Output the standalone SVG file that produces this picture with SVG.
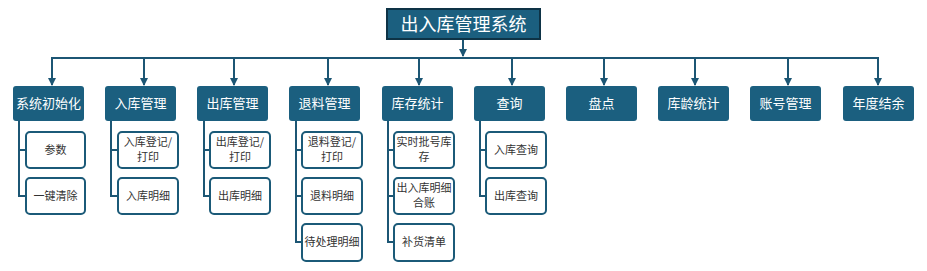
<svg xmlns="http://www.w3.org/2000/svg" width="927" height="271" viewBox="0 0 927 271">
<style>
.t{fill:#1b5f7f;}
.tt{fill:#fff;font-family:"Noto Sans CJK SC","Liberation Sans",sans-serif;font-size:13px;text-anchor:middle;}
.s{fill:#fff;stroke:#1b5a78;stroke-width:2;}
.st{fill:#333;font-family:"Noto Sans CJK SC","Liberation Sans",sans-serif;font-size:11px;text-anchor:middle;}
.c{fill:none;stroke:#1c5674;stroke-width:2;}
</style>
<defs>
<marker id="ah" markerWidth="8" markerHeight="8" refX="7" refY="4" orient="auto" markerUnits="userSpaceOnUse">
<path d="M0,0 L8,4 L0,8 Z" fill="#1c5674"/>
</marker>
</defs>
<g id="connectors">
<path class="c" d="M463,39 V56" marker-end="url(#ah)"/>
<path class="c" d="M52,85 V58 H878 V85"/>
<path class="c" d="M878,58 V85" marker-end="url(#ah)"/>
<path class="c" d="M52,58 V85" marker-end="url(#ah)"/>
<path class="c" d="M144,58 V85" marker-end="url(#ah)"/>
<path class="c" d="M234,58 V85" marker-end="url(#ah)"/>
<path class="c" d="M328,58 V85" marker-end="url(#ah)"/>
<path class="c" d="M419,58 V85" marker-end="url(#ah)"/>
<path class="c" d="M512,58 V85" marker-end="url(#ah)"/>
<path class="c" d="M604,58 V85" marker-end="url(#ah)"/>
<path class="c" d="M695,58 V85" marker-end="url(#ah)"/>
<path class="c" d="M788,58 V85" marker-end="url(#ah)"/>
<path class="c" d="M19,121 V196 H26 M19,150 H26"/>
<path class="c" d="M111,121 V196 H118 M111,150 H118"/>
<path class="c" d="M204,121 V196 H210 M204,150 H210"/>
<path class="c" d="M296,121 V242 H302 M296,150 H302 M296,196 H302"/>
<path class="c" d="M388,121 V242 H394 M388,150 H394 M388,196 H394"/>
<path class="c" d="M480,121 V196 H486 M480,150 H486"/>
</g>
<g id="root">
<rect x="387" y="9" width="153" height="30" fill="#1b5f7f" stroke="#0e3346" stroke-width="2"/>
<text x="463.5" y="30.5" fill="#fff" font-family="Noto Sans CJK SC, Liberation Sans, sans-serif" font-size="18" text-anchor="middle">出入库管理系统</text>
</g>
<g id="n1"><rect class="t" x="13" y="86" width="71" height="35" rx="3"/><text class="tt" x="48.5" y="108">系统初始化</text></g>
<g id="n2"><rect class="t" x="105" y="86" width="71" height="35" rx="3"/><text class="tt" x="140.5" y="108">入库管理</text></g>
<g id="n3"><rect class="t" x="197" y="86" width="71" height="35" rx="3"/><text class="tt" x="232.5" y="108">出库管理</text></g>
<g id="n4"><rect class="t" x="289" y="86" width="71" height="35" rx="3"/><text class="tt" x="324.5" y="108">退料管理</text></g>
<g id="n5"><rect class="t" x="382" y="86" width="71" height="35" rx="3"/><text class="tt" x="417.5" y="108">库存统计</text></g>
<g id="n6"><rect class="t" x="474" y="86" width="71" height="35" rx="3"/><text class="tt" x="509.5" y="108">查询</text></g>
<g id="n7"><rect class="t" x="566" y="86" width="71" height="35" rx="3"/><text class="tt" x="601.5" y="108">盘点</text></g>
<g id="n8"><rect class="t" x="658" y="86" width="71" height="35" rx="3"/><text class="tt" x="693.5" y="108">库龄统计</text></g>
<g id="n9"><rect class="t" x="750" y="86" width="71" height="35" rx="3"/><text class="tt" x="785.5" y="108">账号管理</text></g>
<g id="n10"><rect class="t" x="843" y="86" width="71" height="35" rx="3"/><text class="tt" x="878.5" y="108">年度结余</text></g>
<g id="s1a"><rect class="s" x="26" y="132" width="59" height="36" rx="4"/><text class="st" x="55.5" y="154">参数</text></g>
<g id="s1b"><rect class="s" x="26" y="178" width="59" height="36" rx="4"/><text class="st" x="55.5" y="200">一键清除</text></g>
<g id="s2a"><rect class="s" x="118" y="132" width="60" height="36" rx="4"/><text class="st" x="148" y="146">入库登记/</text><text class="st" x="148" y="161">打印</text></g>
<g id="s2b"><rect class="s" x="118" y="178" width="60" height="36" rx="4"/><text class="st" x="148" y="200">入库明细</text></g>
<g id="s3a"><rect class="s" x="210" y="132" width="60" height="36" rx="4"/><text class="st" x="240" y="146">出库登记/</text><text class="st" x="240" y="161">打印</text></g>
<g id="s3b"><rect class="s" x="210" y="178" width="60" height="36" rx="4"/><text class="st" x="240" y="200">出库明细</text></g>
<g id="s4a"><rect class="s" x="302" y="132" width="60" height="36" rx="4"/><text class="st" x="332" y="146">退料登记/</text><text class="st" x="332" y="161">打印</text></g>
<g id="s4b"><rect class="s" x="302" y="178" width="60" height="36" rx="4"/><text class="st" x="332" y="200">退料明细</text></g>
<g id="s4c"><rect class="s" x="302" y="224" width="60" height="37" rx="4"/><text class="st" x="332" y="246">待处理明细</text></g>
<g id="s5a"><rect class="s" x="394" y="132" width="60" height="36" rx="4"/><text class="st" x="424" y="146">实时批号库</text><text class="st" x="424" y="161">存</text></g>
<g id="s5b"><rect class="s" x="394" y="178" width="60" height="36" rx="4"/><text class="st" x="424" y="192">出入库明细</text><text class="st" x="424" y="207">合账</text></g>
<g id="s5c"><rect class="s" x="394" y="224" width="60" height="37" rx="4"/><text class="st" x="424" y="246">补货清单</text></g>
<g id="s6a"><rect class="s" x="486" y="132" width="60" height="36" rx="4"/><text class="st" x="516" y="154">入库查询</text></g>
<g id="s6b"><rect class="s" x="486" y="178" width="60" height="36" rx="4"/><text class="st" x="516" y="200">出库查询</text></g>
</svg>
